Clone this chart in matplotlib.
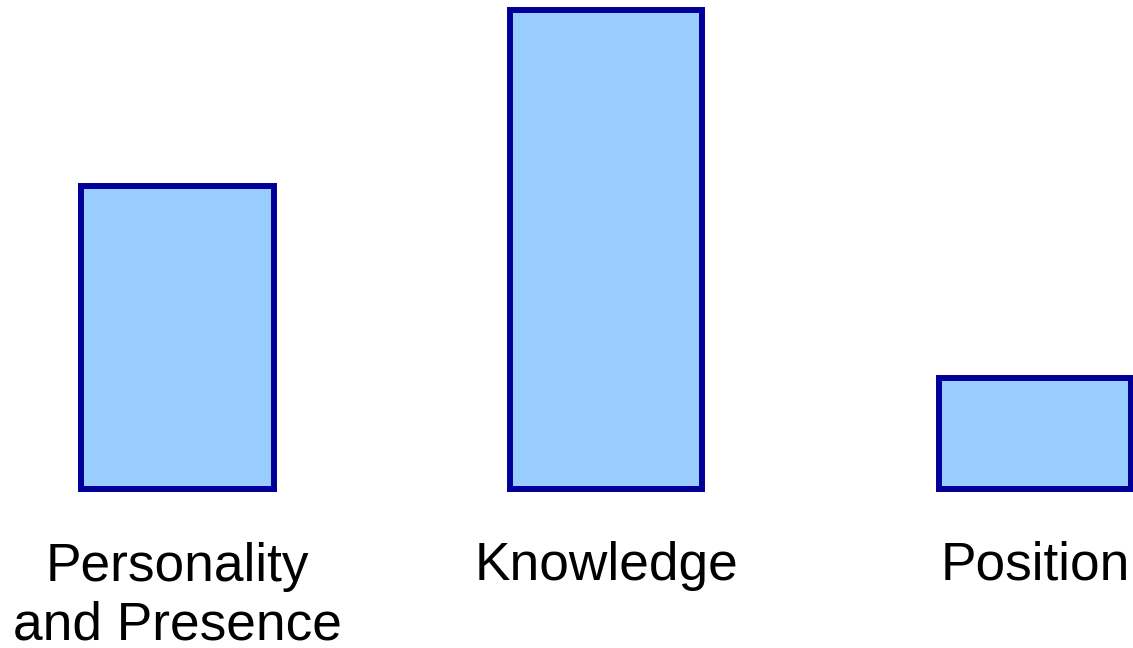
import matplotlib
matplotlib.use('Agg')
import matplotlib.pyplot as plt

categories = ['Personality\nand Presence', 'Knowledge', 'Position']
values = [19, 30, 7]

plt.rcParams['font.family'] = ['Liberation Sans', 'DejaVu Sans']

fig = plt.figure(figsize=(11.33, 6.48), dpi=100)
ax = fig.add_axes([0, 0, 1, 1])

x = range(len(categories))
ax.bar(x, values, width=0.449, color='#99CCFF', edgecolor='#000099',
       linewidth=4.3, joinstyle='miter')

# labels below the bars; baseline is the last line, so push multi-line ones down
line_step = 60 / 15.983
for xi, lab in zip(x, categories):
    n_extra = lab.count('\n')
    ax.text(xi, -5.66 - n_extra * line_step, lab, ha='center', va='baseline',
            fontsize=38.3, linespacing=1.22, color='black')

ax.set_xlim(-0.4134, 2.2285)
ax.set_ylim(-9.918, 30.63)
ax.axis('off')

fig.savefig('out.png', dpi=100, facecolor='white')
